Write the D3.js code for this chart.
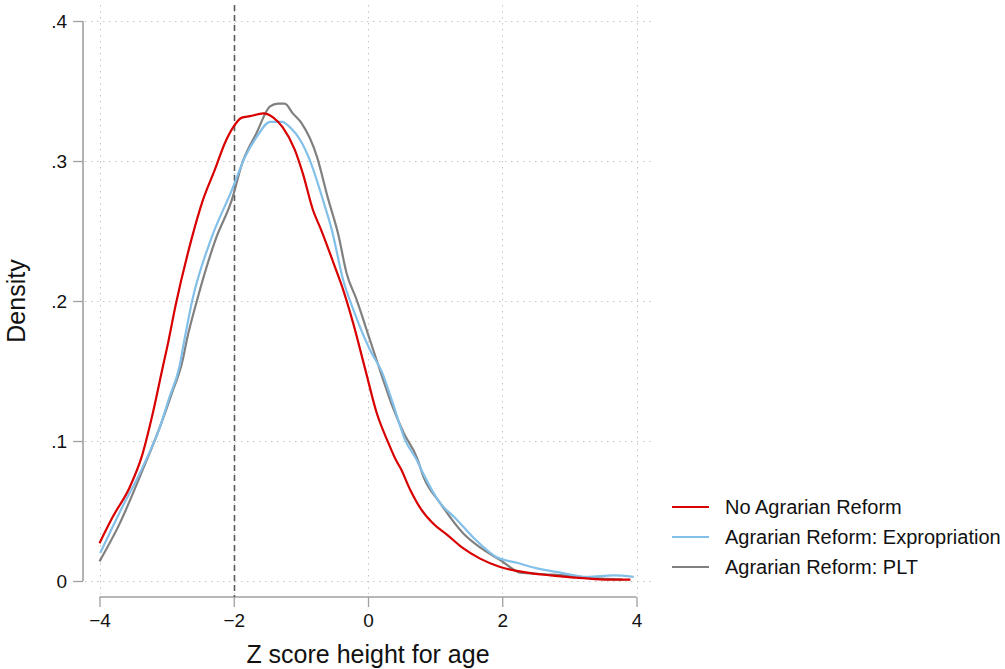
<!DOCTYPE html>
<html>
<head>
<meta charset="utf-8">
<script src="https://cdn.jsdelivr.net/npm/d3@7"></script>
<style>
  html, body { margin: 0; padding: 0; background: #fff; }
  svg { display: block; font-family: "Liberation Sans", Arial, Helvetica, sans-serif; }
</style>
</head>
<body>
<svg id="chart" width="1005" height="669"></svg>
<script>
// kernel density estimates: [z score, density]
var noReform = [
  [-4.00, 0.027], [-3.80, 0.046], [-3.55, 0.067], [-3.37, 0.089], [-3.22, 0.117],
  [-3.07, 0.150], [-2.97, 0.172], [-2.87, 0.196], [-2.63, 0.244], [-2.46, 0.272],
  [-2.28, 0.294], [-2.13, 0.313], [-2.01, 0.324], [-1.88, 0.331], [-1.76, 0.332],
  [-1.56, 0.334], [-1.41, 0.331], [-1.27, 0.324], [-1.09, 0.308], [-0.97, 0.291],
  [-0.82, 0.265], [-0.70, 0.251], [-0.49, 0.224], [-0.37, 0.208], [-0.22, 0.184],
  [-0.04, 0.151], [0.13, 0.120], [0.30, 0.099], [0.42, 0.086], [0.48, 0.081],
  [0.63, 0.065], [0.78, 0.052], [0.97, 0.041], [1.18, 0.033], [1.40, 0.024],
  [1.67, 0.016], [1.97, 0.010], [2.37, 0.006], [2.72, 0.004], [3.21, 0.002],
  [3.57, 0.001], [3.91, 0.001]
];

var expropriation = [
  [-3.99, 0.020], [-3.70, 0.049], [-3.36, 0.081], [-3.10, 0.110], [-2.96, 0.131],
  [-2.81, 0.153], [-2.74, 0.171], [-2.62, 0.200], [-2.34, 0.244], [-2.03, 0.279],
  [-1.83, 0.303], [-1.66, 0.317], [-1.46, 0.328], [-1.28, 0.328], [-1.16, 0.324],
  [-1.01, 0.315], [-0.87, 0.301], [-0.67, 0.272], [-0.54, 0.251], [-0.37, 0.215],
  [-0.22, 0.194], [0.03, 0.165], [0.21, 0.149], [0.37, 0.127], [0.55, 0.101],
  [0.73, 0.086], [0.80, 0.079], [1.07, 0.056], [1.32, 0.044], [1.57, 0.031],
  [1.92, 0.017], [2.22, 0.013], [2.52, 0.009], [2.87, 0.006], [3.26, 0.003],
  [3.66, 0.004], [3.96, 0.003]
];

var plt = [
  [-4.00, 0.014], [-3.70, 0.041], [-3.36, 0.079], [-3.10, 0.110], [-2.93, 0.133],
  [-2.76, 0.158], [-2.70, 0.172], [-2.55, 0.200], [-2.27, 0.244], [-2.03, 0.272],
  [-1.87, 0.299], [-1.66, 0.320], [-1.46, 0.339], [-1.34, 0.341], [-1.24, 0.341],
  [-1.12, 0.334], [-0.99, 0.327], [-0.76, 0.303], [-0.60, 0.274], [-0.44, 0.247],
  [-0.32, 0.220], [-0.17, 0.201], [0.03, 0.172], [0.21, 0.146], [0.37, 0.124],
  [0.53, 0.106], [0.73, 0.088], [0.83, 0.074], [1.07, 0.056], [1.42, 0.034],
  [1.67, 0.024], [1.97, 0.015], [2.27, 0.006], [2.57, 0.005], [2.97, 0.004],
  [3.36, 0.002], [3.79, 0.001]
];

var seriesNames = ["No Agrarian Reform", "Agrarian Reform: Expropriation", "Agrarian Reform: PLT"];
var seriesColors = ["#d80000", "#82c0ea", "#808080"];
var xTicks = [-4, -2, 0, 2, 4];
var yTicks = [0, 0.1, 0.2, 0.3, 0.4];
var cutoff = -2; // stunting threshold

var svg = d3.select("#chart");

var x = d3.scaleLinear().domain([-4, 4]).range([99.5, 636.5]);
var y = d3.scaleLinear().domain([0, 0.4]).range([581, 21]);

var plotLeft = 83, plotRight = 652, plotTop = 5, plotBottom = 597;

// grid
var grid = svg.append("g")
   .attr("stroke", "#c4c4c4")
   .attr("stroke-width", 1)
   .attr("stroke-dasharray", "1.5,4.5");

grid.selectAll(".gy").data(yTicks).enter().append("line")
   .attr("x1", plotLeft + 2).attr("x2", plotRight)
   .attr("y1", function (d) { return Math.round(y(d)) + 0.5; })
   .attr("y2", function (d) { return Math.round(y(d)) + 0.5; });

grid.selectAll(".gx").data(xTicks).enter().append("line")
   .attr("y1", plotTop).attr("y2", plotBottom - 3)
   .attr("x1", function (d) { return Math.round(x(d)) + 0.5; })
   .attr("x2", function (d) { return Math.round(x(d)) + 0.5; });

// axes
var yAxis = d3.axisLeft(y)
   .tickValues(yTicks)
   .tickSize(10)
   .tickPadding(6)
   .tickFormat(function (d) { return d === 0 ? "0" : d3.format(".1f")(d).replace(/^0/, ""); });

var xAxis = d3.axisBottom(x)
   .tickValues(xTicks)
   .tickSize(10)
   .tickPadding(6)
   .tickFormat(function (d) { return d < 0 ? "\u2212" + Math.abs(d) : String(d); });

var gy = svg.append("g")
   .attr("transform", "translate(" + plotLeft + ",0)")
   .call(yAxis);

var gx = svg.append("g")
   .attr("transform", "translate(0," + plotBottom + ")")
   .call(xAxis);

[gx, gy].forEach(function (g) {
   g.select(".domain").attr("stroke", "#a0a0a0").attr("stroke-width", 1.6)
      .attr("d", null);
   g.selectAll(".tick line").attr("stroke", "#a0a0a0").attr("stroke-width", 1.3);
   g.selectAll(".tick text").attr("fill", "#111").style("font-size", "19px");
});

// axis lines only over the tick range
gy.select(".domain").attr("d", "M0," + y(0.4) + "V" + y(0));
gx.select(".domain").attr("d", "M" + x(-4) + ",0H" + x(4));
gy.selectAll(".tick text").attr("dy", "0.36em");
gx.selectAll(".tick text").attr("dy", "0.72em");

// cutoff line
svg.append("line")
   .attr("x1", Math.round(x(cutoff)) + 0.5).attr("x2", Math.round(x(cutoff)) + 0.5)
   .attr("y1", plotTop).attr("y2", plotBottom)
   .attr("stroke", "#5a5a5a")
   .attr("stroke-width", 1.6)
   .attr("stroke-dasharray", "6,4");

// density curves
var line = d3.line()
   .x(function (d) { return x(d[0]); })
   .y(function (d) { return y(d[1]); })
   .curve(d3.curveMonotoneX);

var allSeries = [noReform, expropriation, plt];
var drawOrder = [2, 1, 0];

svg.append("g").selectAll("path")
   .data(drawOrder)
   .enter().append("path")
   .attr("d", function (i) { return line(allSeries[i]); })
   .attr("fill", "none")
   .attr("stroke", function (i) { return seriesColors[i]; })
   .attr("stroke-width", 2.2)
   .attr("stroke-linejoin", "round");

// titles
svg.append("text")
   .attr("x", x(0))
   .attr("y", 663)
   .attr("text-anchor", "middle")
   .style("font-size", "25px")
   .attr("fill", "#111")
   .text("Z score height for age");

svg.append("text")
   .attr("transform", "translate(25," + y(0.2) + ") rotate(-90)")
   .attr("text-anchor", "middle")
   .style("font-size", "25px")
   .attr("fill", "#111")
   .text("Density");

// legend
var legendItem = svg.append("g").selectAll("g")
   .data(seriesNames)
   .enter().append("g")
   .attr("transform", function (d, i) { return "translate(672," + (507 + i * 30) + ")"; });

legendItem.append("line")
   .attr("x1", 0).attr("x2", 37)
   .attr("stroke", function (d, i) { return seriesColors[i]; })
   .attr("stroke-width", 2.2);

legendItem.append("text")
   .attr("x", 53)
   .attr("y", 7)
   .style("font-size", "20px")
   .attr("fill", "#111")
   .text(function (d) { return d; });
</script>
</body>
</html>
